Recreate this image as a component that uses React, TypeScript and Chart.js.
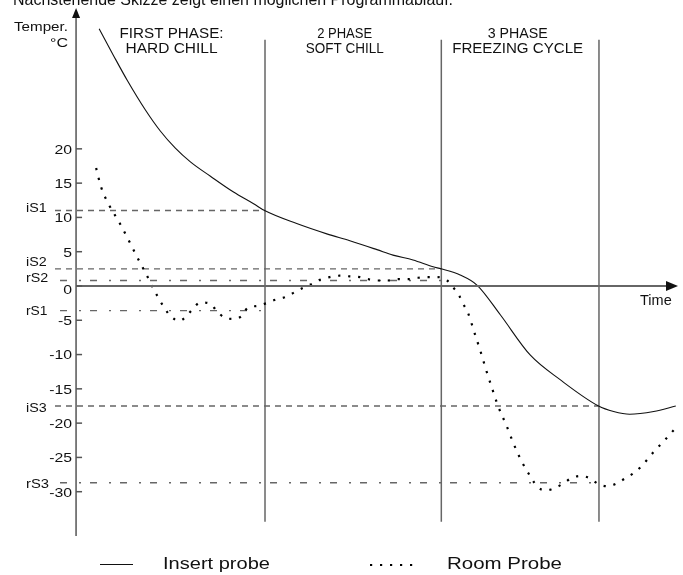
import React, { useEffect, useRef } from "react";
import { Chart, registerables } from "chart.js";

Chart.register(...registerables);

// ---- data (time in arbitrary units, temperature in °C) ----
const insertX = [2.3, 3.7, 5.1, 6.9, 8.4, 9.9, 11.4, 13.4, 15.7, 17.7, 18.8, 22.0, 25.0, 27.3, 30.0, 31.6, 33.6, 35.6, 36.4, 38.3, 40.0, 42.3, 45.3, 48.3, 52.1, 53.6, 55.2, 57.6, 59.8];
const insertY = [37.5, 33.7, 30.0, 25.7, 22.6, 20.1, 18.1, 16.0, 13.7, 12.0, 11.0, 9.1, 7.6, 6.6, 5.3, 4.5, 3.8, 2.8, 2.5, 1.6, 0.1, -4.2, -10.1, -13.7, -17.5, -18.3, -18.7, -18.3, -17.5];

const roomX = [2.0, 2.5, 3.3, 4.3, 5.2, 6.1, 7.0, 7.9, 8.9, 9.5, 10.3, 11.0, 11.6, 12.4, 13.4, 14.0, 14.8, 15.7, 16.5, 17.1, 18.1, 19.0, 19.9, 20.9, 21.8, 22.6, 23.5, 24.3, 25.3, 26.3, 27.3, 28.3, 29.1, 30.1, 31.1, 32.1, 33.1, 34.1, 35.1, 36.0, 37.0, 37.6, 38.2, 38.6, 39.1, 39.7, 40.3, 40.9, 41.5, 42.1, 42.9, 43.6, 44.4, 45.4, 46.0, 46.9, 47.8, 48.6, 49.4, 50.4, 51.3, 52.1, 53.0, 53.9, 54.7, 55.6, 56.3, 57.6, 59.0, 59.6];
const roomY = [17.2, 14.4, 11.8, 9.3, 6.8, 4.2, 1.7, -0.9, -3.4, -4.5, -5.1, -4.4, -3.4, -2.4, -2.6, -3.6, -4.6, -4.8, -4.4, -3.2, -2.9, -2.5, -2.0, -1.6, -0.9, -0.3, 0.3, 0.9, 1.3, 1.5, 1.4, 1.3, 1.0, 0.8, 0.8, 1.0, 1.0, 1.2, 1.3, 1.3, 0.8, -0.2, -1.4, -2.6, -4.0, -6.7, -9.4, -12.3, -15.0, -17.6, -20.3, -22.9, -25.5, -28.0, -29.3, -29.8, -29.4, -28.8, -28.0, -27.7, -28.1, -28.9, -29.2, -28.8, -28.1, -27.3, -26.4, -24.2, -22.0, -21.0];

const yTicks = [20, 15, 10, 5, 0, -5, -10, -15, -20, -25, -30];

const thresholdNames = ["iS1", "iS2", "rS2", "rS1", "iS3", "rS3"];
const thresholdValues = [11, 2.5, 0.8, -3.6, -17.5, -28.7];
const thresholdEnds = [18.84, 36.42, 36.42, 18.84, 52.14, 52.14];

const phaseBounds = [18.84, 36.42, 52.14];
const phaseLine1 = ["FIRST PHASE:", "2 PHASE", "3 PHASE"];
const phaseLine2 = ["HARD CHILL", "SOFT CHILL", "FREEZING CYCLE"];

const seriesNames = ["Insert probe", "Room Probe"];
const pageNote = "Nachstehende Skizze zeigt einen möglichen Programmablauf.";

// ---- layout constants ----
const X_MIN = -2.1;
const X_MAX = 60.02;
const Y_MIN = -36.46;
const Y_MAX = 40.54;
const PHASE_TOP = 35.9;
const PHASE_BOTTOM = -34.4;
const FONT = '"Liberation Sans", Arial, Helvetica, sans-serif';
const LABEL_DY = [1.5, -2.5, 1.3, 4, 6, 5];
const LABEL_W = [20.7, 20.7, 22.3, 21.5, 20.7, 23];

function drawText(
  ctx: CanvasRenderingContext2D,
  text: string,
  x: number,
  y: number,
  size: number,
  align: "left" | "right" | "center",
  width?: number,
  sx?: number
) {
  ctx.save();
  ctx.font = `${size}px ${FONT}`;
  const w = ctx.measureText(text).width;
  const s = width ? width / w : sx ?? 1;
  const left = align === "left" ? x : align === "right" ? x - w * s : x - (w * s) / 2;
  ctx.translate(left, y);
  ctx.scale(s, 1);
  ctx.textAlign = "left";
  ctx.textBaseline = "alphabetic";
  ctx.fillStyle = "#111";
  ctx.fillText(text, 0, 0);
  ctx.restore();
}

const decorPlugin = {
  id: "decor",
  afterDatasetsDraw(chart: any) {
    const ctx: CanvasRenderingContext2D = chart.ctx;
    const xs = chart.scales.x;
    const ys = chart.scales.y;
    const x0 = xs.getPixelForValue(0);
    const y0 = ys.getPixelForValue(0);
    const yTop = ys.getPixelForValue(Y_MAX);
    const yBot = ys.getPixelForValue(Y_MIN);
    const xEnd = xs.getPixelForValue(X_MAX);

    ctx.save();
    // y axis
    ctx.strokeStyle = "#555";
    ctx.lineWidth = 1.5;
    ctx.beginPath();
    ctx.moveTo(x0, yBot);
    ctx.lineTo(x0, yTop + 8);
    ctx.stroke();
    ctx.fillStyle = "#111";
    ctx.beginPath();
    ctx.moveTo(x0, yTop);
    ctx.lineTo(x0 - 4, yTop + 10);
    ctx.lineTo(x0 + 4, yTop + 10);
    ctx.closePath();
    ctx.fill();

    // x axis
    ctx.strokeStyle = "#666";
    ctx.lineWidth = 2;
    ctx.beginPath();
    ctx.moveTo(x0, y0);
    ctx.lineTo(xEnd - 8, y0);
    ctx.stroke();
    ctx.beginPath();
    ctx.moveTo(xEnd, y0);
    ctx.lineTo(xEnd - 12, y0 - 5);
    ctx.lineTo(xEnd - 12, y0 + 5);
    ctx.closePath();
    ctx.fill();

    // ticks + labels
    ctx.strokeStyle = "#555";
    ctx.lineWidth = 1.5;
    yTicks.forEach((v) => {
      const py = ys.getPixelForValue(v);
      ctx.beginPath();
      ctx.moveTo(x0, py);
      ctx.lineTo(x0 + 6, py);
      ctx.stroke();
      drawText(ctx, String(v), x0 - 4, py + 4.8 + (v === 0 ? 3.5 : 0), 13.5, "right", undefined, 1.17);
    });

    // threshold labels
    thresholdNames.forEach((n, i) => {
      const py = ys.getPixelForValue(thresholdValues[i]);
      drawText(ctx, n, 26, py + LABEL_DY[i], 13.5, "left", LABEL_W[i]);
    });

    // axis titles
    drawText(ctx, "Temper.", 68, 31, 12.5, "right", 54);
    drawText(ctx, "°C", 68, 47, 13.5, "right", 18);
    drawText(ctx, "Time", 640, 305, 14, "left", 31.7);

    // phase titles
    const bounds = [0, ...phaseBounds];
    const centerOffsets = [1, -8.5, -2.5];
    const w1 = [104, 55, 60];
    const w2 = [92, 78, 131];
    for (let i = 0; i < 3; i++) {
      const cx = (xs.getPixelForValue(bounds[i]) + xs.getPixelForValue(bounds[i + 1])) / 2 + centerOffsets[i];
      drawText(ctx, phaseLine1[i], cx, 38, 14, "center", w1[i]);
      drawText(ctx, phaseLine2[i], cx, 53, 14, "center", w2[i]);
    }

    // page note (cut off at top)
    drawText(ctx, pageNote, 13, 5, 16, "left", 440);

    // legend
    const ds0 = chart.data.datasets[0];
    const ds1 = chart.data.datasets[1];
    ctx.strokeStyle = ds0.borderColor;
    ctx.lineWidth = ds0.borderWidth;
    ctx.setLineDash([]);
    ctx.beginPath();
    ctx.moveTo(100, 564.5);
    ctx.lineTo(133, 564.5);
    ctx.stroke();
    drawText(ctx, seriesNames[0], 163, 568.5, 16.5, "left", 107);

    ctx.strokeStyle = ds1.borderColor;
    ctx.lineWidth = ds1.borderWidth;
    ctx.setLineDash(ds1.borderDash);
    ctx.beginPath();
    ctx.moveTo(370, 565);
    ctx.lineTo(420, 565);
    ctx.stroke();
    ctx.setLineDash([]);
    drawText(ctx, seriesNames[1], 447, 568.5, 16.5, "left", 115);

    ctx.restore();
  },
};

export default function App() {
  const ref = useRef<HTMLCanvasElement | null>(null);

  useEffect(() => {
    if (!ref.current) return;
    const datasets: any[] = [
      {
        label: seriesNames[0],
        data: insertX.map((x, i) => ({ x, y: insertY[i] })),
        borderColor: "#111",
        borderWidth: 1.1,
        pointRadius: 0,
        cubicInterpolationMode: "monotone",
        order: 0,
      },
      {
        label: seriesNames[1],
        data: roomX.map((x, i) => ({ x, y: roomY[i] })),
        borderColor: "#000",
        borderWidth: 2.2,
        borderDash: [2.2, 7.8],
        borderCapStyle: "butt",
        pointRadius: 0,
        cubicInterpolationMode: "monotone",
        order: 1,
      },
    ];
    thresholdNames.forEach((n, i) => {
      const isRoom = n.startsWith("r");
      datasets.push({
        label: n,
        data: [
          { x: isRoom ? -1.6 : X_MIN, y: thresholdValues[i] },
          { x: thresholdEnds[i], y: thresholdValues[i] },
        ],
        borderColor: "#666",
        borderWidth: 1.4,
        borderDash: isRoom ? [7, 12, 2, 9] : [6, 5],
        pointRadius: 0,
        order: 3,
      });
    });
    phaseBounds.forEach((b, i) => {
      datasets.push({
        label: "phase" + i,
        data: [
          { x: b, y: PHASE_TOP },
          { x: b, y: PHASE_BOTTOM },
        ],
        borderColor: "#666",
        borderWidth: 1.5,
        pointRadius: 0,
        order: 2,
      });
    });

    const chart = new Chart(ref.current, {
      type: "line",
      data: { datasets },
      options: {
        responsive: false,
        animation: false,
        devicePixelRatio: 1,
        events: [],
        layout: { padding: { left: 55, right: 5, top: 8, bottom: 39 } },
        scales: {
          x: { type: "linear", min: X_MIN, max: X_MAX, display: false },
          y: { type: "linear", min: Y_MIN, max: Y_MAX, display: false },
        },
        plugins: {
          legend: { display: false },
          tooltip: { enabled: false },
          title: { display: false },
        },
      },
      plugins: [decorPlugin],
    });
    return () => chart.destroy();
  }, []);

  return (
    <div style={{ position: "fixed", left: 0, top: 0, width: 683, height: 575, background: "#fff" }}>
      <canvas ref={ref} width={683} height={575} style={{ width: 683, height: 575, display: "block" }} />
    </div>
  );
}
